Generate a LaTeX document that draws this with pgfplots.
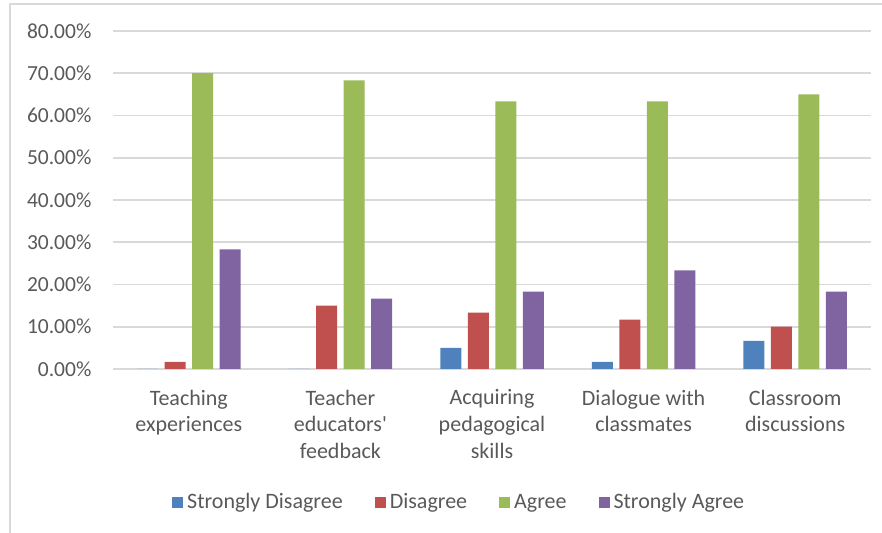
\documentclass[border=0pt]{standalone}
\usepackage{fontspec}
\setmainfont{Carlito}
\usepackage{pgfplots}
\pgfplotsset{compat=1.18}

\definecolor{txt}{HTML}{595959}
\definecolor{gridc}{HTML}{D9D9D9}
\definecolor{sdis}{HTML}{4F81BD}
\definecolor{dis}{HTML}{C0504D}
\definecolor{agr}{HTML}{9BBB59}
\definecolor{sagr}{HTML}{8064A2}

% Share of responses (percent) per source of learning
\pgfplotstableread{
x  sd    d     a     sa
0  0     1.67  70.00 28.33
1  0     15.00 68.33 16.67
2  5.00  13.33 63.33 18.33
3  1.67  11.67 63.33 23.33
4  6.67  10.00 65.00 18.33
}\survey

\begin{document}
\begin{tikzpicture}[x=1pt,y=1pt]
\path[use as bounding box] (0,0) rectangle (441,266.5);
\draw[gridc, line width=1pt] (5,0) -- (5,264.5) -- (441,264.5);
\begin{axis}[
  at={(56.5pt,82pt)}, anchor=south west,
  scale only axis, width=379pt, height=169pt,
  xmin=-0.5, xmax=4.5, ymin=0, ymax=80,
  ybar=3.25pt, bar width=10.5pt,
  xtick={0,...,4},
  xticklabels={{Teaching\\experiences},{Teacher\\educators\textquotesingle\\feedback},{Acquiring\\pedagogical\\skills},{Dialogue with\\classmates},{Classroom\\discussions}},
  ytick={0,10,...,80},
  yticklabel={\pgfmathprintnumber[fixed,fixed zerofill,precision=2]{\tick}\%},
  /pgf/number format/assume math mode=true,
  ymajorgrids, grid style={gridc, line width=0.8pt},
  axis line style={draw=none}, major tick length=0pt,
  tick label style={text=txt},
  yticklabel style={font=\fontsize{10.75}{12.85}\selectfont, anchor=east, inner sep=0pt, xshift=-10.6pt},
  xticklabel style={font=\fontsize{11}{13.4}\selectfont, align=center, anchor=north, inner sep=0pt, yshift=-10.2pt},
  legend style={at={(0.458,-0.395)}, anchor=center, draw=none, fill=none,
    legend columns=-1, font=\fontsize{11}{13.4}\selectfont, text=txt,
    /tikz/every even column/.append style={column sep=14pt},
    /tikz/every odd column/.append style={column sep=0pt}},
  legend image code/.code={\fill[#1] (0pt,-2.75pt) rectangle (5.5pt,2.75pt);},
  every axis plot/.append style={draw=none},
]
\addplot[fill=sdis] table[x=x,y=sd] {\survey};
\addplot[fill=dis]  table[x=x,y=d]  {\survey};
\addplot[fill=agr]  table[x=x,y=a]  {\survey};
\addplot[fill=sagr] table[x=x,y=sa] {\survey};
\legend{Strongly Disagree,Disagree,Agree,Strongly Agree}
\end{axis}
\end{tikzpicture}
\end{document}
